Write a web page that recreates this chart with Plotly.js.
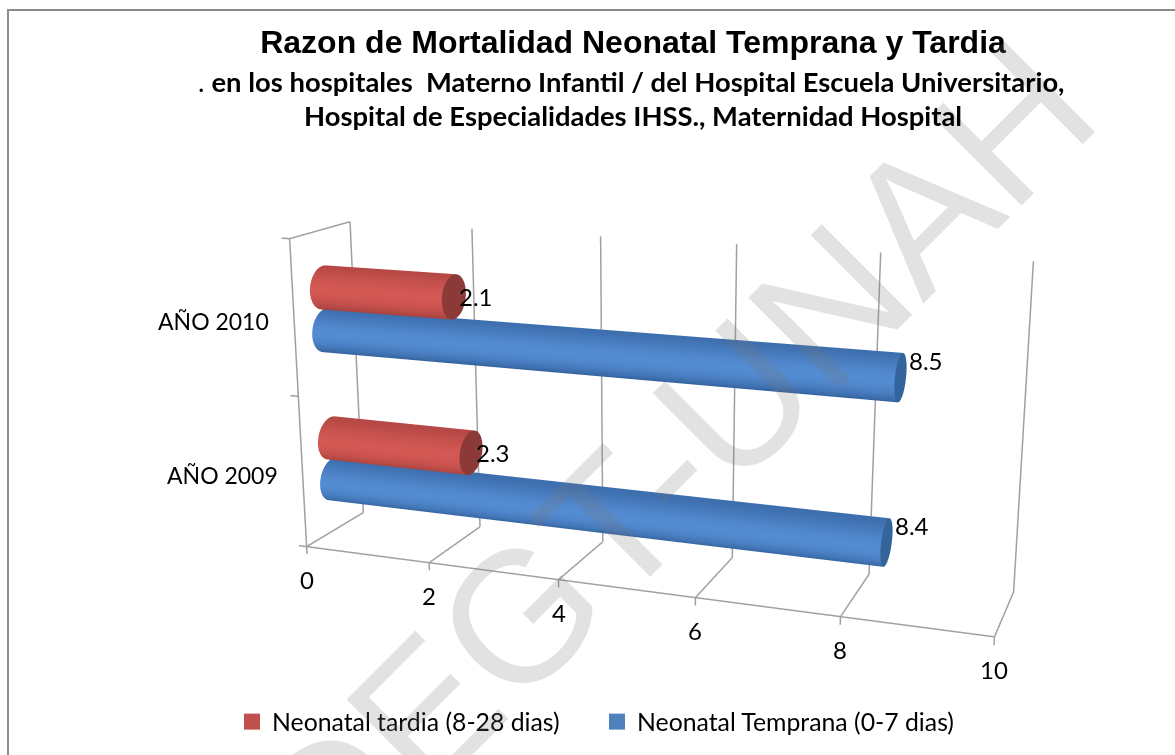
<!DOCTYPE html>
<html>
<head>
<meta charset="utf-8">
<script src="https://cdn.plot.ly/plotly-3.0.1.min.js"></script>
<style>
html,body{margin:0;padding:0;background:#fff;overflow:hidden;width:1175px;height:755px}
/* graph is bigger than the window: a taller scene gives the flatter perspective of the original */
#chart{position:absolute;left:0;top:-287px}
</style>
</head>
<body>
<div id="chart"></div>
<script>
// data
const years = ["AÑO 2009", "AÑO 2010"];
const tardia = [2.3, 2.1];
const temprana = [8.4, 8.5];
const xTicks = [0, 2, 4, 6, 8, 10];
const seriesNames = ["Neonatal tardia (8-28 dias)", "Neonatal Temprana (0-7 dias)"];

const W = 1294, H = 1400, TOP = 287;
const px = x => x / W;
const py = y => 1 - (y + TOP) / H;

const xRange = [-0.5, 10.5], zRange = [-0.2, 2.2];
const aspect = { x: 2.42, y: 0.37, z: 1.2 };
const barR = 0.14;

function lerp(a, b, t) {
    return a.map((v, i) => Math.round(v + (b[i] - v) * t));
}
function rgb(c) { return `rgb(${c[0]},${c[1]},${c[2]})`; }

// one cylinder lying along x, from 0 to value
function cylinder(value, zc, dark, bright, capColor) {
    const n = 48;
    const rz = barR, ry = 1.2 * barR * (aspect.z / 2.4) / aspect.y;
    const xs = [], ys = [], zs = [], vc = [], i = [], j = [], k = [];
    for (let a = 0; a < n; a++) {
        const th = 2 * Math.PI * a / n;
        const t = Math.sin(th);
        const c = rgb(lerp(bright, dark, Math.pow(Math.abs(t - 0.15) / 1.15, 1.8)));
        xs.push(0, value);
        ys.push(0.5 + ry * Math.cos(th), 0.5 + ry * Math.cos(th));
        zs.push(zc + rz * t, zc + rz * t);
        vc.push(c, c);
        const b = (a + 1) % n;
        i.push(2 * a, 2 * a + 1);
        j.push(2 * b, 2 * b);
        k.push(2 * a + 1, 2 * b + 1);
    }
    // end cap, flat and darker
    const base = xs.length;
    for (let a = 0; a < n; a++) {
        const th = 2 * Math.PI * a / n;
        xs.push(value);
        ys.push(0.5 + ry * Math.cos(th));
        zs.push(zc + rz * Math.sin(th));
        vc.push(rgb(capColor));
    }
    xs.push(value); ys.push(0.5); zs.push(zc); vc.push(rgb(capColor));
    for (let a = 0; a < n; a++) {
        i.push(base + n); j.push(base + a); k.push(base + (a + 1) % n);
    }
    return {
        type: "mesh3d", x: xs, y: ys, z: zs, i: i, j: j, k: k, vertexcolor: vc,
        flatshading: false, hoverinfo: "skip", showlegend: false,
        lighting: { ambient: 1, diffuse: 0, specular: 0, roughness: 1, fresnel: 0 }
    };
}

const red = { dark: [160, 62, 58], bright: [212, 88, 84], cap: [140, 58, 55] };
const blue = { dark: [45, 90, 148], bright: [84, 140, 210], cap: [52, 100, 156] };

const traces = [];
years.forEach((y, idx) => {
    traces.push(cylinder(tardia[idx], idx + 0.49 + barR, red.dark, red.bright, red.cap));
    traces.push(cylinder(temprana[idx], idx + 0.49 - barR, blue.dark, blue.bright, blue.cap));
});

// frame: floor lines, back wall lines, front axes and tick stubs
const fx = [], fy = [], fz = [];
function seg(a, b) {
    fx.push(a[0], b[0], null); fy.push(a[1], b[1], null); fz.push(a[2], b[2], null);
}
xTicks.forEach(t => {
    seg([t, 0, 0], [t, 1, 0]);
    seg([t, 1, 0], [t, 1, 2]);
    seg([t, 0, 0], [t, 0, -0.05]);
});
seg([0, 0, 0], [10, 0, 0]);
seg([0, 0, 0], [0, 0, 2]);
seg([0, 0, 2], [0, 1, 2]);
[0, 1, 2].forEach(z => seg([0, 0, z], [-0.13, 0, z]));
traces.push({
    type: "scatter3d", mode: "lines", x: fx, y: fy, z: fz, connectgaps: false,
    line: { color: "#a0a0a0", width: 3 }, hoverinfo: "skip", showlegend: false
});

// legend entries
[[seriesNames[0], "#c0504d"], [seriesNames[1], "#4f81bd"]].forEach(s => {
    traces.push({
        type: "scatter3d", mode: "markers", name: s[0], x: [null], y: [null], z: [null],
        marker: { symbol: "square", size: 16, color: s[1] }, hoverinfo: "skip"
    });
});

const tickFont = { family: "Lato, sans-serif", size: 24, color: "#000" };
const catFont = { family: "Lato, sans-serif", size: 23, color: "#000" };
const sceneNotes = [];
xTicks.forEach(t => sceneNotes.push({
    x: t, y: 0, z: 0, text: String(t), showarrow: false, yshift: -33, font: tickFont
}));
years.forEach((y, idx) => sceneNotes.push({
    x: 0, y: 0, z: idx + 0.5, text: y, showarrow: false, xanchor: "right", xshift: -23, yshift: -3, font: catFont
}));
years.forEach((y, idx) => {
    sceneNotes.push({
        x: tardia[idx], y: 0.5, z: idx + 0.49 + barR, text: tardia[idx].toFixed(1),
        showarrow: false, xanchor: "left", xshift: 3, font: tickFont
    });
    sceneNotes.push({
        x: temprana[idx], y: 0.5, z: idx + 0.49 - barR, text: temprana[idx].toFixed(1),
        showarrow: false, xanchor: "left", xshift: 6, yshift: 17, font: tickFont
    });
});

const hidden = { visible: false, showgrid: false, zeroline: false, showspikes: false, autorange: false };

const layout = {
    width: W, height: H,
    margin: { l: 0, r: 0, t: 0, b: 0 },
    paper_bgcolor: "#fff",
    title: {
        text: "<b>Razon de Mortalidad Neonatal Temprana y Tardia</b>",
        font: { family: "Liberation Sans, Arial, sans-serif", size: 32, color: "#000" },
        x: px(633), xanchor: "center", y: py(42), yanchor: "middle"
    },
    showlegend: true,
    legend: {
        orientation: "h", x: px(232), xanchor: "left", y: py(722), yanchor: "middle",
        entrywidth: 320, entrywidthmode: "pixels",
        font: { family: "Lato, sans-serif", size: 24.8, color: "#000" }, bgcolor: "rgba(0,0,0,0)"
    },
    scene: {
        domain: { x: [0, 1], y: [0, 1] },
        bgcolor: "rgba(0,0,0,0)",
        dragmode: false,
        aspectmode: "manual",
        aspectratio: aspect,
        xaxis: Object.assign({ range: xRange }, hidden),
        yaxis: Object.assign({ range: [0, 1] }, hidden),
        zaxis: Object.assign({ range: zRange }, hidden),
        camera: {
            center: { x: 0, y: 0, z: 0 },
            eye: { x: 1.69, y: -4.65, z: 1.326 },
            up: { x: 0, y: 0, z: 1 },
            projection: { type: "perspective" }
        },
        annotations: sceneNotes
    },
    shapes: [{
        type: "rect", xref: "paper", yref: "paper", x0: px(8), x1: px(1285), y0: py(900), y1: py(10),
        line: { color: "#8c8c8c", width: 2 }, fillcolor: "rgba(0,0,0,0)"
    }],
    annotations: [
        {
            xref: "paper", yref: "paper", x: px(672), y: py(463), text: "DEGT-UNAH", showarrow: false,
            textangle: -45, font: { family: "Liberation Sans, Arial, sans-serif", size: 186, color: "rgba(120,120,120,0.21)" }
        },
        {
            xref: "paper", yref: "paper", x: px(631), y: py(81), yanchor: "middle", showarrow: false,
            text: ". <b>en los hospitales  Materno Infantil / del Hospital Escuela Universitario,</b>",
            font: { family: "Lato, sans-serif", size: 27.4, color: "#000" }
        },
        {
            xref: "paper", yref: "paper", x: px(633), y: py(115), yanchor: "middle", showarrow: false,
            text: "<b>Hospital de Especialidades IHSS., Maternidad Hospital</b>",
            font: { family: "Lato, sans-serif", size: 27.4, color: "#000" }
        }
    ]
};

Plotly.newPlot("chart", traces, layout, { displayModeBar: false });
</script>
</body>
</html>
